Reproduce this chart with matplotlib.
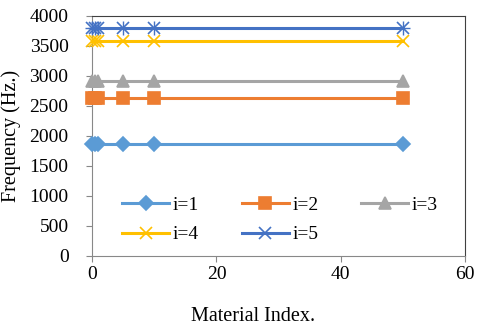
import matplotlib
matplotlib.use("Agg")
import matplotlib.pyplot as plt

plt.rcParams['font.family'] = ['Liberation Serif', 'DejaVu Serif']

material = [0, 0.5, 1, 5, 10, 50]
freq_i1 = [1870, 1870, 1870, 1870, 1870, 1870]
freq_i2 = [2625, 2625, 2625, 2625, 2625, 2625]
freq_i3 = [2915, 2915, 2915, 2915, 2915, 2915]
freq_i4 = [3580, 3580, 3580, 3580, 3580, 3580]
freq_i5 = [3805, 3805, 3805, 3805, 3805, 3805]
labels = ["i=1", "i=2", "i=3", "i=4", "i=5"]

fig = plt.figure(figsize=(4.8, 3.31), dpi=100)
ax = fig.add_axes([0.192, 0.227, 0.777, 0.725])

styles = [("#5B9BD5", "D", 7), ("#ED7D31", "s", 8), ("#A5A5A5", "^", 9),
          ("#FFC000", "x", 8), ("#4472C4", "x", 8)]
series = [freq_i1, freq_i2, freq_i3, freq_i4, freq_i5]
handles = []
for k, (ys, lab, (c, m, ms)) in enumerate(zip(series, labels, styles)):
    h, = ax.plot(material, ys, color=c, lw=2.2, marker=m, ms=ms, mew=1.2,
                 label=lab, clip_on=False, zorder=3)
    handles.append(h)
    if k == 4:
        ax.plot(material, ys, color=c, lw=0, marker="+", ms=10, mew=1.0,
                clip_on=False, zorder=3)

ax.set_xlim(0, 60)
ax.set_ylim(0, 4000)
ax.set_xticks([0, 20, 40, 60])
ax.set_yticks(range(0, 4001, 500))
ax.tick_params(labelsize=14, length=4, color="#888888", direction="out")
ax.tick_params(axis="y", pad=13)
for s in ["left", "bottom"]:
    ax.spines[s].set_color("#888888")
for s in ["top", "right"]:
    ax.spines[s].set_color("#404040")
ax.set_xlabel("Material Index.", fontsize=14.5)
ax.set_ylabel("Frequency (Hz.)", fontsize=14.5)
ax.xaxis.set_label_coords(0.432, -0.215)
ax.yaxis.set_label_coords(-0.19, 0.5)

order = [0, 3, 1, 4, 2]
ax.legend([handles[i] for i in order], [labels[i] for i in order],
          loc="upper left", ncol=3, frameon=False, fontsize=14,
          bbox_to_anchor=(0.06, 0.28), handlelength=2.4, columnspacing=2.2,
          handletextpad=0.2, labelspacing=0.6, borderaxespad=0)

fig.savefig("out.png", dpi=100)
